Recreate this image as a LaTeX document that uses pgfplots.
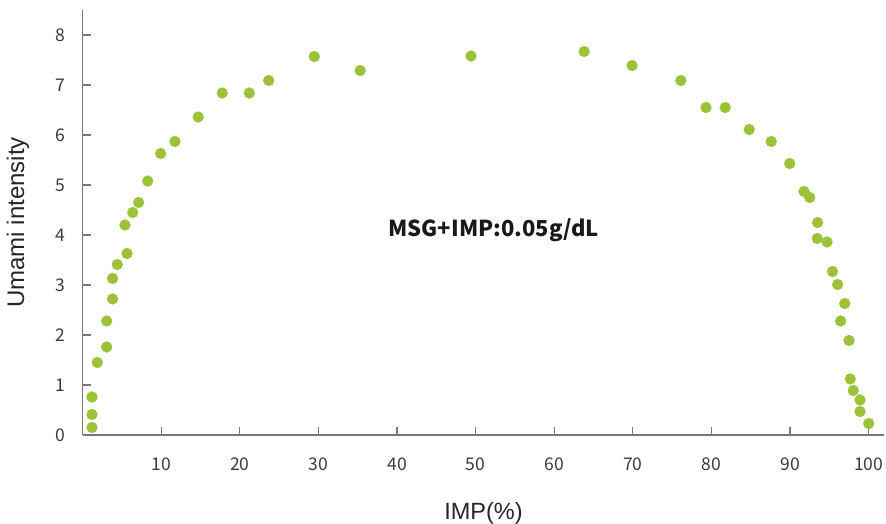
\documentclass[border=0pt]{standalone}
\usepackage{fontspec}
\setmainfont{Liberation Sans}
\newfontfamily\cjk{Noto Sans CJK SC}
\usepackage{pgfplots}
\pgfplotsset{compat=1.18}
\definecolor{dotgreen}{RGB}{156,194,58}
\definecolor{axgray}{RGB}{120,120,120}
\definecolor{tickgray}{RGB}{60,60,60}
\begin{document}
\begin{tikzpicture}
\begin{axis}[
  scale only axis,
  width=801.7bp, height=425bp,
  xmin=0, xmax=102, ymin=0, ymax=8.5,
  axis x line=bottom, axis y line=left,
  axis line style={-, draw=axgray, line width=1.4bp},
  tick align=inside,
  xtick={10,20,...,100}, ytick={0,1,...,8},
  major tick length=8bp,
  tick style={draw=axgray, line width=1.2bp},
  /pgf/number format/assume math mode=true,
  tick label style={font=\cjk\fontsize{17.5bp}{20bp}\selectfont, text=tickgray, inner sep=0pt},
  xticklabel style={anchor=north, yshift=-23bp},
  yticklabel style={anchor=east, xshift=-17bp},
  xlabel={IMP(\%)}, ylabel={Umami intensity},
  every axis x label/.style={at={(axis description cs:0.5,-0.1835)}, anchor=center, font=\fontsize{23.5bp}{27bp}\selectfont, text=black!85},
  every axis y label/.style={at={(axis description cs:-0.0807,0.5)}, anchor=center, rotate=90, font=\fontsize{24bp}{27bp}\selectfont, text=black!85},
  clip=false,
]
\addplot[color=dotgreen, only marks, mark=*, mark size=5.4bp, mark options={draw=none, fill=dotgreen}] coordinates {
(1.18,0.15) (1.18,0.41) (1.18,0.76) (1.86,1.45) (3.05,1.76) (3.05,2.28)
(3.8,2.72) (3.8,3.13) (4.4,3.41) (5.64,3.63) (5.38,4.2) (6.36,4.45)
(7.12,4.65) (8.27,5.08) (9.92,5.63) (11.74,5.87) (14.7,6.36) (17.76,6.84)
(21.2,6.84) (23.66,7.09) (29.47,7.57) (35.3,7.29) (49.4,7.58) (63.8,7.67)
(69.9,7.39) (76.1,7.09) (79.3,6.55) (81.75,6.55) (84.8,6.11) (87.6,5.87)
(89.95,5.43) (91.77,4.87) (92.5,4.75) (93.5,4.25) (93.46,3.93) (94.7,3.86)
(95.4,3.27) (96.05,3.01) (96.95,2.63) (96.44,2.28) (97.5,1.89) (97.66,1.12)
(98.04,0.89) (98.9,0.7) (98.9,0.47) (100,0.23)
};
\node[font=\cjk\bfseries\fontsize{22bp}{26bp}\selectfont, text=black!90, anchor=center] at (axis cs:52.3,4.1) {MSG+IMP:0.05g/dL};
\end{axis}
\pgfresetboundingbox
\path[use as bounding box] ([shift={(-82.7bp,-89bp)}]current axis.south west) rectangle ([shift={(803.3bp,435bp)}]current axis.south west);
\end{tikzpicture}
\end{document}
